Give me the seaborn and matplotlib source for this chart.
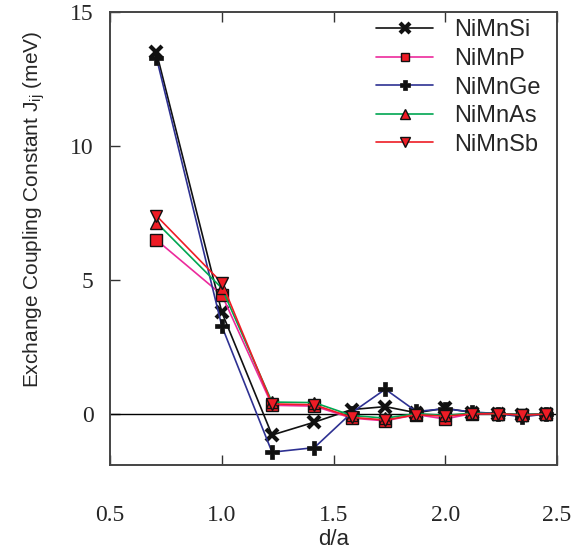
import numpy as np
import pandas as pd
import matplotlib
matplotlib.use("Agg")
import matplotlib.pyplot as plt
import seaborn as sns

# neighbour shell distances d/a = sqrt(n/2)
shell = [1, 2, 3, 4, 5, 6, 7, 8, 9, 10, 11, 12]
d_over_a = [np.sqrt(n / 2) for n in shell]

j_nimnsi = [13.5, 3.80, -0.78, -0.30, 0.17, 0.28, 0.05, 0.22, 0.06, 0.02, -0.02, 0.01]
j_nimnp = [6.50, 4.45, 0.33, 0.30, -0.15, -0.25, -0.02, -0.18, 0.02, 0.00, -0.03, 0.00]
j_nimnge = [13.3, 3.28, -1.42, -1.25, 0.05, 0.93, 0.10, 0.20, 0.08, 0.02, -0.10, 0.00]
j_nimnas = [7.15, 4.70, 0.45, 0.43, -0.05, -0.15, 0.02, -0.05, 0.04, 0.01, -0.02, 0.00]
j_nimnsb = [7.40, 4.90, 0.38, 0.35, -0.12, -0.22, -0.02, -0.08, 0.01, 0.02, -0.04, 0.00]

compounds = ["NiMnSi", "NiMnP", "NiMnGe", "NiMnAs", "NiMnSb"]
values = [j_nimnsi, j_nimnp, j_nimnge, j_nimnas, j_nimnsb]

styles = {
    "NiMnSi": dict(color="#111111", marker="x", mfc="#111111", mec="#111111", ms=9, mew=3.0),
    "NiMnP": dict(color="#ec2a9c", marker="s", mfc="#ee1c25", mec="#111111", ms=8.5, mew=1.0),
    "NiMnGe": dict(color="#2e3192", marker="P", mfc="#111111", mec="#111111", ms=10, mew=0.5),
    "NiMnAs": dict(color="#00a651", marker="^", mfc="#ee1c25", mec="#111111", ms=9, mew=1.0),
    "NiMnSb": dict(color="#ee1c25", marker="v", mfc="#ee1c25", mec="#111111", ms=9, mew=1.0),
}

sns.set_theme(style="ticks")
plt.rcParams["font.family"] = ["Liberation Sans", "DejaVu Sans"]
plt.rcParams["mathtext.fontset"] = "custom"
plt.rcParams["mathtext.rm"] = "Liberation Sans"
plt.rcParams["mathtext.it"] = "Liberation Sans"

fig = plt.figure(figsize=(5.8, 5.51), dpi=100)
ax = fig.add_axes([0.19, 0.156, 0.77, 0.822])

ax.axhline(0, color="black", lw=1.0, zorder=1)

for name, vals in zip(compounds, values):
    df = pd.DataFrame({"d": d_over_a, "J": vals})
    st = styles[name]
    sns.lineplot(data=df, x="d", y="J", ax=ax, color=st["color"], lw=1.2,
                 marker=st["marker"], markerfacecolor=st["mfc"],
                 markeredgecolor=st["mec"], markersize=st["ms"],
                 markeredgewidth=st["mew"], label=name, zorder=3)

ax.set_xlim(0.5, 2.5)
ax.set_ylim(-1.9, 15)
ax.set_xticks([0.5, 1.0, 1.5, 2.0, 2.5])
ax.set_xticklabels(["0.5", "1.0", "1.5", "2.0", "2.5"])
ax.set_yticks([0, 5, 10, 15])

ax.tick_params(axis="both", direction="in", length=7, width=1.0, color="#333333",
               labelsize=17, pad=12)
ax.tick_params(axis="x", top=True, pad=29)
for lab in ax.get_xticklabels() + ax.get_yticklabels():
    lab.set_family(["Liberation Serif", "DejaVu Serif"])

for sp in ax.spines.values():
    sp.set_color("#444444")
    sp.set_linewidth(1.4)

ax.set_xlabel("d/a", fontsize=16)
ax.xaxis.set_label_coords(0.5, -0.142)
ax.set_ylabel("Exchange Coupling Constant J$_{\\rm ij}$ (meV)", fontsize=15)
ax.yaxis.set_label_coords(-0.142, 0.565)

leg = ax.legend(loc="upper right", bbox_to_anchor=(0.985, 1.005), frameon=False,
                fontsize=17, handlelength=2.4, labelspacing=0.28, handletextpad=0.9,
                borderaxespad=0.0, markerscale=0.75)

fig.savefig("out.png", dpi=100)
